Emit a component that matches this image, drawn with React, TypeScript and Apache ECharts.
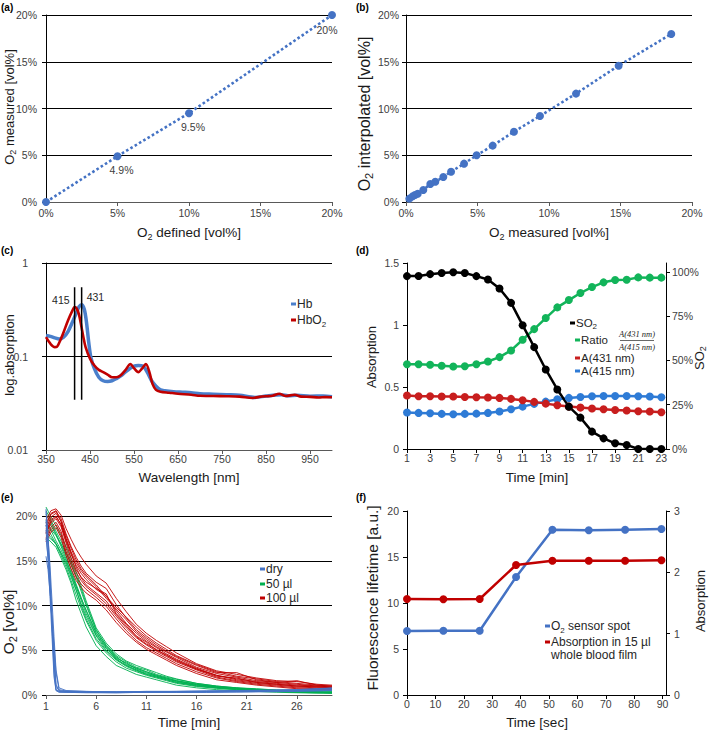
import { useEffect, useRef } from 'react';
import * as echarts from 'echarts';

// ---------------- DATA ----------------
// (a) calibration
const A_DEFINED = [0, 5, 10, 20];
const A_MEASURED = [0, 4.9, 9.5, 20];

// (b) interpolation
const B_MEASURED = [0.23, 0.47, 0.63, 0.82, 1.21, 1.7, 2.05, 2.61, 3.15, 4.06, 4.94, 6.06, 7.55, 9.37, 11.89, 14.87, 18.55];
const B_INTERP = [0.36, 0.61, 0.75, 0.89, 1.28, 1.93, 2.17, 2.67, 3.24, 4.1, 5.0, 6.03, 7.52, 9.2, 11.59, 14.58, 17.97];

// (c) spectra
const HB_WL = [350, 360, 370, 380, 390, 400, 410, 420, 425, 431, 437, 442, 447, 452, 460, 470, 480, 490, 500, 510, 520, 530, 540, 550, 560, 570, 580, 590, 600, 610, 620, 640, 660, 680, 700, 730, 760, 790, 825, 850, 885, 900, 920, 950, 980, 1000];
const HB_ABS = [0.168, 0.164, 0.158, 0.154, 0.161, 0.185, 0.233, 0.3, 0.34, 0.358, 0.32, 0.233, 0.143, 0.098, 0.074, 0.06, 0.055, 0.054, 0.055, 0.058, 0.062, 0.068, 0.074, 0.079, 0.08, 0.079, 0.068, 0.055, 0.048, 0.044, 0.043, 0.042, 0.0415, 0.041, 0.04, 0.0395, 0.039, 0.0385, 0.0365, 0.0378, 0.039, 0.038, 0.0385, 0.0376, 0.0378, 0.0372];
const HBO2_WL = [350, 360, 370, 375, 380, 390, 400, 410, 415, 420, 425, 430, 435, 440, 450, 460, 470, 480, 490, 500, 510, 520, 530, 542, 550, 560, 568, 577, 585, 592, 600, 610, 630, 650, 680, 700, 730, 760, 790, 820, 835, 850, 865, 880, 895, 915, 930, 950, 970, 985, 1000];
const HBO2_ABS = [0.161, 0.137, 0.126, 0.127, 0.14, 0.182, 0.243, 0.31, 0.338, 0.324, 0.28, 0.215, 0.161, 0.126, 0.095, 0.08, 0.072, 0.068, 0.064, 0.06, 0.06, 0.063, 0.071, 0.083, 0.075, 0.068, 0.074, 0.083, 0.068, 0.051, 0.044, 0.042, 0.041, 0.04, 0.039, 0.038, 0.0378, 0.0376, 0.0372, 0.036, 0.037, 0.0376, 0.038, 0.04, 0.0378, 0.039, 0.0372, 0.037, 0.0365, 0.0368, 0.0367];
const PEAK_WL = [415, 431];
const PEAK_LINE_RANGE = [0.0345, 0.55];

// (d) time course
const D_TIME = [1, 2, 3, 4, 5, 6, 7, 8, 9, 10, 11, 12, 13, 14, 15, 16, 17, 18, 19, 20, 21, 22, 23];
const D_SO2 = [97.6, 97.7, 98.7, 99.4, 99.8, 99.4, 97.6, 95.7, 90.6, 82.5, 69.9, 57.5, 44.9, 33.6, 23.9, 17.7, 9.8, 6.0, 3.2, 2.3, 0, 0, 0];
const D_RATIO = [0.684, 0.684, 0.679, 0.671, 0.665, 0.668, 0.684, 0.706, 0.741, 0.795, 0.881, 0.967, 1.056, 1.142, 1.201, 1.258, 1.306, 1.344, 1.363, 1.365, 1.384, 1.382, 1.382];
const D_A431 = [0.431, 0.426, 0.426, 0.423, 0.423, 0.42, 0.417, 0.415, 0.412, 0.404, 0.393, 0.38, 0.366, 0.353, 0.342, 0.334, 0.326, 0.32, 0.315, 0.31, 0.304, 0.302, 0.296];
const D_A415 = [0.294, 0.291, 0.288, 0.283, 0.28, 0.283, 0.285, 0.291, 0.302, 0.32, 0.342, 0.364, 0.382, 0.401, 0.412, 0.42, 0.426, 0.428, 0.428, 0.428, 0.426, 0.423, 0.417];

// (e) O2 depletion traces
const E_T_DRY = [1, 1.2, 1.4, 1.6, 1.8, 2.0, 2.3, 3, 5, 8, 11, 14, 17, 20, 23, 26, 29.5];
const E_DRY_1 = [20.5, 17, 12.5, 8, 3.5, 0.6, 0.4, 0.35, 0.3, 0.3, 0.35, 0.3, 0.35, 0.4, 0.45, 0.5, 0.6];
const E_DRY_2 = [19.5, 16.5, 13, 9, 5, 1.2, 0.5, 0.4, 0.35, 0.3, 0.3, 0.35, 0.4, 0.35, 0.4, 0.5, 0.55];
const E_DRY_3 = [18.5, 15, 11, 6.5, 2, 0.5, 0.35, 0.3, 0.3, 0.25, 0.3, 0.3, 0.3, 0.35, 0.4, 0.45, 0.5];
const E_DRY_4 = [15.5, 14, 11.5, 8.5, 5.5, 2.5, 0.6, 0.45, 0.4, 0.35, 0.4, 0.4, 0.45, 0.5, 0.55, 0.6, 0.75];
const E_DRY_5 = [19, 17.5, 14.5, 10.5, 6.5, 2.8, 0.8, 0.5, 0.4, 0.35, 0.35, 0.4, 0.4, 0.45, 0.5, 0.6, 0.8];
const E_DRY_6 = [20.8, 18, 13.5, 7.5, 2.5, 0.5, 0.3, 0.3, 0.25, 0.25, 0.3, 0.3, 0.3, 0.35, 0.35, 0.4, 0.5];
const E_DRY_7 = [17.5, 15.5, 12, 8, 4, 1, 0.45, 0.4, 0.35, 0.35, 0.4, 0.4, 0.45, 0.5, 0.5, 0.55, 0.7];
const E_T_SLOW = [1, 1.5, 2, 2.5, 3, 3.5, 4, 4.5, 5, 6, 7, 8, 9, 10, 11, 12, 13, 14, 16, 18, 20, 22, 24, 26, 28, 29.5];
const E_50_1 = [21.0, 19.9, 18.9, 17.8, 16.6, 15.3, 13.8, 12.2, 10.5, 7.5, 5.8, 4.6, 3.8, 3.3, 2.9, 2.5, 2.1, 1.8, 1.3, 1.0, 0.8, 0.7, 0.55, 0.5, 0.45, 0.4];
const E_50_2 = [17.6, 17.1, 16.5, 15.3, 14.0, 12.5, 10.6, 9.1, 7.6, 5.5, 4.3, 3.3, 2.8, 2.3, 2.0, 1.7, 1.4, 1.1, 0.8, 0.6, 0.5, 0.4, 0.3, 0.25, 0.2, 0.2];
const E_50_3 = [19.5, 18.9, 17.9, 16.6, 15.2, 13.6, 12.1, 10.6, 9.1, 6.7, 5.2, 4.1, 3.6, 2.9, 2.5, 2.1, 1.8, 1.55, 1.15, 0.9, 0.75, 0.6, 0.5, 0.4, 0.3, 0.3];
const E_50_4 = [18.2, 17.6, 16.8, 15.6, 14.3, 12.8, 11.2, 9.7, 8.3, 6.1, 4.7, 3.7, 3.0, 2.6, 2.2, 1.9, 1.6, 1.3, 0.95, 0.75, 0.6, 0.5, 0.4, 0.3, 0.25, 0.2];
const E_50_5 = [20.2, 19.2, 18.0, 16.8, 15.5, 14.0, 12.4, 10.9, 9.4, 6.9, 5.3, 4.0, 3.3, 2.8, 2.4, 2.1, 1.8, 1.5, 1.05, 0.8, 0.65, 0.5, 0.4, 0.35, 0.3, 0.25];
const E_50_6 = [19.0, 18.5, 17.8, 16.9, 15.8, 14.6, 13.2, 11.6, 10.0, 7.2, 5.6, 4.4, 3.7, 3.1, 2.8, 2.3, 2.0, 1.75, 1.3, 1.0, 0.8, 0.65, 0.55, 0.45, 0.35, 0.3];
const E_50_7 = [18.8, 17.9, 16.9, 15.8, 14.6, 13.2, 11.7, 10.2, 8.8, 6.6, 5.0, 4.0, 3.3, 2.8, 2.3, 2.0, 1.7, 1.4, 1.1, 0.85, 0.7, 0.55, 0.45, 0.4, 0.3, 0.25];
const E_50_8 = [20.6, 19.5, 18.3, 17.2, 16.0, 14.8, 13.4, 11.9, 10.2, 7.3, 5.5, 4.3, 3.4, 3.0, 2.6, 2.2, 1.9, 1.6, 1.2, 0.9, 0.75, 0.6, 0.5, 0.4, 0.35, 0.3];
const E_50_9 = [17.9, 17.4, 16.9, 15.9, 14.8, 13.4, 11.8, 10.0, 8.5, 6.3, 4.9, 3.9, 3.2, 2.7, 2.3, 2.0, 1.7, 1.4, 1.0, 0.8, 0.6, 0.5, 0.4, 0.3, 0.3, 0.25];
const E_50_10 = [19.3, 18.4, 17.2, 16.2, 15.0, 13.7, 12.2, 10.8, 9.5, 7.0, 5.4, 4.2, 3.5, 3.0, 2.6, 2.2, 1.9, 1.6, 1.2, 0.95, 0.75, 0.6, 0.5, 0.4, 0.35, 0.3];
const E_100_1 = [19.6, 20.6, 20.8, 20.1, 18.6, 17.4, 16.3, 15.4, 14.6, 13.3, 12.5, 10.8, 9.3, 7.9, 6.9, 6.1, 5.4, 4.7, 3.5, 2.7, 2.3, 1.9, 1.6, 1.5, 1.2, 1.1];
const E_100_2 = [17.1, 18.2, 18.7, 17.6, 15.6, 14.1, 12.8, 12.0, 11.4, 10.6, 9.5, 8.1, 6.9, 5.9, 5.1, 4.5, 3.9, 3.3, 2.4, 1.7, 1.4, 1.1, 0.9, 0.7, 0.6, 0.6];
const E_100_3 = [18.9, 20.2, 20.5, 19.7, 18.0, 16.6, 15.4, 14.4, 13.6, 12.6, 11.9, 10.1, 8.6, 7.3, 6.4, 5.6, 4.9, 4.3, 3.3, 2.5, 2.5, 1.7, 1.4, 1.6, 1.1, 1.0];
const E_100_4 = [17.6, 18.8, 19.3, 18.3, 16.4, 14.9, 13.7, 12.8, 12.1, 11.2, 10.2, 8.8, 7.5, 6.4, 5.6, 4.9, 4.3, 3.7, 2.8, 2.0, 1.6, 1.3, 1.1, 0.9, 0.8, 0.7];
const E_100_5 = [18.3, 19.6, 20.0, 19.0, 17.2, 15.7, 14.5, 13.6, 12.9, 11.8, 11.1, 9.4, 8.0, 6.9, 6.0, 5.3, 4.6, 4.0, 3.0, 2.2, 1.8, 1.5, 1.3, 1.1, 1.0, 0.9];
const E_100_6 = [18.0, 19.2, 19.7, 18.8, 17.0, 15.3, 14.0, 13.2, 12.6, 11.9, 11.3, 9.1, 7.9, 6.6, 5.9, 5.0, 4.5, 3.8, 2.9, 2.1, 1.9, 1.4, 1.2, 1.0, 0.9, 0.8];
const E_100_7 = [19.2, 20.3, 20.6, 19.4, 17.5, 16.0, 14.8, 13.9, 13.2, 12.1, 10.8, 9.6, 8.4, 7.1, 6.2, 5.4, 4.8, 4.2, 3.1, 2.4, 2.0, 1.6, 1.4, 1.2, 1.0, 0.9];
const E_100_8 = [17.4, 18.5, 19.0, 18.0, 16.0, 14.5, 13.2, 12.4, 11.8, 10.9, 9.9, 8.5, 7.2, 6.1, 5.3, 4.7, 4.1, 3.5, 2.6, 1.9, 1.5, 1.2, 1.0, 0.8, 0.7, 0.7];
const E_100_9 = [18.6, 19.9, 20.3, 19.4, 17.8, 16.4, 15.1, 14.1, 13.4, 12.3, 11.0, 9.8, 8.7, 7.6, 6.6, 5.8, 5.1, 4.4, 3.4, 2.6, 2.1, 1.8, 1.5, 1.3, 1.1, 1.0];
const E_100_10 = [18.1, 19.4, 19.9, 19.1, 17.4, 15.9, 14.3, 13.1, 12.3, 11.4, 10.5, 9.0, 7.7, 6.5, 5.7, 5.1, 4.4, 3.9, 2.9, 2.2, 1.7, 1.4, 1.2, 1.0, 0.9, 0.8];
const E_DRY = [E_DRY_1, E_DRY_2, E_DRY_3, E_DRY_4, E_DRY_5, E_DRY_6, E_DRY_7];
const E_50 = [E_50_1, E_50_2, E_50_3, E_50_4, E_50_5, E_50_6, E_50_7, E_50_8, E_50_9, E_50_10];
const E_100 = [E_100_1, E_100_2, E_100_3, E_100_4, E_100_5, E_100_6, E_100_7, E_100_8, E_100_9, E_100_10];

// (f) sensor vs absorption
const F_TIME = [0, 12.8, 25.6, 38.4, 51.2, 64.0, 76.8, 89.6];
const F_LIFETIME = [6.96, 6.99, 6.99, 12.83, 17.97, 17.9, 17.97, 18.04];
const F_ABS = [1.565, 1.56, 1.565, 2.12, 2.19, 2.19, 2.19, 2.196];

// tick label sets
const C_X_TICKS = [350, 450, 550, 650, 750, 850, 950];
const D_X_TICKS = [1, 3, 5, 7, 9, 11, 13, 15, 17, 19, 21, 23];
const D_R_TICKS = [0, 25, 50, 75, 100];
const E_X_TICKS = [1, 6, 11, 16, 21, 26];
const F_X_TICKS = [0, 10, 20, 30, 40, 50, 60, 70, 80, 90];

// ---------------- STYLE ----------------
const FONT = "'Liberation Sans', Arial, Helvetica, sans-serif";
const SERIF = "'Liberation Serif', 'Times New Roman', serif";
const TICK_COLOR = '#404040';
const TITLE_COLOR = '#1a1a1a';
const LEG_COLOR = '#262626';
const AX_BLACK = '#000000';
const AX_GRAY = '#595959';
const C_BLUE = '#4472C4';
const C_SPEC_BLUE = '#4A7FCB';
const C_RED = '#C00000';
const C_GREEN = '#00B050';
const C_D_BLUE = '#2E7BD6';
const C_D_GREEN = '#12B45A';
const C_D_RED = '#C81E1E';

const zip = (xs: number[], ys: number[]) => xs.map((x, i) => [x, ys[i]]);

function richText(s: string) {
  return s
    .split(/(_\d)/)
    .filter((p) => p.length > 0)
    .map((p) => (p[0] === '_' ? `{s|${p.slice(1)}}` : `{n|${p}}`))
    .join('');
}
function richStyle(size: number, color: string) {
  const sub = Math.round(size * 0.7);
  return {
    n: { fontSize: size, fontFamily: FONT, color, lineHeight: Math.round(size * 1.3) },
    s: {
      fontSize: sub,
      fontFamily: FONT,
      color,
      lineHeight: sub,
      padding: [Math.round(size * 0.5), 0, 0, 0],
      verticalAlign: 'bottom',
    },
  };
}
function title(text: string, x: number, y: number, size: number, rotate = false) {
  return {
    type: 'text',
    x,
    y,
    rotation: rotate ? Math.PI / 2 : 0,
    silent: true,
    style: {
      text: richText(text),
      rich: richStyle(size, TITLE_COLOR),
      align: 'center',
      verticalAlign: 'middle',
      fill: TITLE_COLOR,
      fontFamily: FONT,
      fontSize: size,
    },
  };
}
function legendItem(x: number, y: number, color: string, text: string, size = 12, textX?: number) {
  return [
    { type: 'rect', silent: true, shape: { x, y: y - 1.5, width: 5, height: 3 }, style: { fill: color } },
    {
      type: 'text',
      silent: true,
      x: textX ?? x + 6,
      y,
      style: {
        text: richText(text),
        rich: richStyle(size, LEG_COLOR),
        align: 'left',
        verticalAlign: 'middle',
        fill: LEG_COLOR,
        fontFamily: FONT,
        fontSize: size,
      },
    },
  ];
}
function plainText(text: string, x: number, y: number, size: number, opts: any = {}) {
  return {
    type: 'text',
    silent: true,
    x,
    y,
    style: {
      text,
      fontFamily: opts.family ?? FONT,
      fontSize: size,
      fontWeight: opts.weight ?? 'normal',
      fontStyle: opts.style ?? 'normal',
      fill: opts.color ?? TITLE_COLOR,
      align: opts.align ?? 'left',
      verticalAlign: opts.valign ?? 'middle',
    },
  };
}

const lbl = (margin: number, extra: any = {}) => ({
  fontSize: 10.5,
  color: TICK_COLOR,
  fontFamily: FONT,
  margin,
  ...extra,
});
const tick = (color: string, extra: any = {}) => ({ show: true, length: 4, lineStyle: { color, width: 1 }, ...extra });
const line = (color: string, show = true) => ({ show, onZero: false, lineStyle: { color, width: 1 } });
const split = (show: boolean) => ({ show, lineStyle: { color: AX_BLACK, width: 1 } });

function buildOption(): any {
  const grids = [
    { left: 46, top: 15, width: 286, height: 187 }, // a
    { left: 406, top: 15, width: 286, height: 187 }, // b
    { left: 46, top: 263, width: 286, height: 187 }, // c
    { left: 407, top: 263, width: 259, height: 186 }, // d
    { left: 46, top: 516, width: 286, height: 179 }, // e
    { left: 407, top: 511, width: 259, height: 184 }, // f
  ];

  const xAxis = [
    { gridIndex: 0, type: 'value', min: 0, max: 20, interval: 5, axisLabel: lbl(5, { formatter: '{value}%' }), axisLine: line(AX_GRAY), axisTick: tick(AX_GRAY), splitLine: split(false) },
    { gridIndex: 1, type: 'value', min: 0, max: 20, interval: 5, axisLabel: lbl(5, { formatter: '{value}%' }), axisLine: line(AX_GRAY), axisTick: tick(AX_GRAY), splitLine: split(false) },
    { gridIndex: 2, type: 'value', min: 350, max: 1000, axisLabel: lbl(3, { customValues: C_X_TICKS }), axisLine: line(AX_GRAY), axisTick: tick(AX_GRAY, { customValues: C_X_TICKS }), splitLine: split(false) },
    { gridIndex: 3, type: 'value', min: 1, max: 23.4, axisLabel: lbl(3, { customValues: D_X_TICKS }), axisLine: line(AX_BLACK), axisTick: tick(AX_BLACK, { customValues: D_X_TICKS }), splitLine: split(false) },
    { gridIndex: 4, type: 'value', min: 1, max: 29.5, axisLabel: lbl(5, { customValues: E_X_TICKS }), axisLine: line(AX_GRAY), axisTick: tick(AX_GRAY, { customValues: E_X_TICKS }), splitLine: split(false) },
    { gridIndex: 5, type: 'value', min: 0, max: 91.2, axisLabel: lbl(3, { customValues: F_X_TICKS }), axisLine: line(AX_BLACK), axisTick: tick(AX_BLACK, { customValues: F_X_TICKS }), splitLine: split(false) },
  ];

  const yAxis = [
    { gridIndex: 0, type: 'value', min: 0, max: 20, interval: 5, axisLabel: lbl(9, { formatter: '{value}%' }), axisLine: line(AX_BLACK), axisTick: tick(AX_BLACK), splitLine: split(true) },
    { gridIndex: 1, type: 'value', min: 0, max: 20, interval: 5, axisLabel: lbl(7, { formatter: '{value}%' }), axisLine: line(AX_BLACK), axisTick: tick(AX_BLACK), splitLine: split(true) },
    {
      gridIndex: 2,
      type: 'log',
      logBase: 10,
      min: 0.01,
      max: 1,
      axisLabel: lbl(18, { formatter: (v: number) => (v >= 1 ? '1' : v >= 0.1 ? '0.1' : '0.01') }),
      axisLine: line(AX_BLACK),
      axisTick: tick(AX_BLACK),
      splitLine: split(true),
      minorTick: { show: false },
    },
    { gridIndex: 3, type: 'value', min: 0, max: 1.5, interval: 0.5, axisLabel: lbl(8), axisLine: line(AX_BLACK), axisTick: tick(AX_BLACK), splitLine: split(false) },
    {
      gridIndex: 3,
      type: 'value',
      position: 'right',
      min: 0,
      max: 105,
      axisLabel: lbl(6, { customValues: D_R_TICKS, formatter: '{value}%' }),
      axisLine: line(AX_BLACK),
      axisTick: tick(AX_BLACK, { customValues: D_R_TICKS }),
      splitLine: split(false),
    },
    { gridIndex: 4, type: 'value', min: 0, max: 20, interval: 5, axisLabel: lbl(9, { formatter: '{value}%' }), axisLine: line(AX_BLACK, false), axisTick: tick(AX_BLACK), splitLine: split(true) },
    { gridIndex: 5, type: 'value', min: 0, max: 20, interval: 5, axisLabel: lbl(8), axisLine: line(AX_BLACK), axisTick: tick(AX_BLACK), splitLine: split(false) },
    { gridIndex: 5, type: 'value', position: 'right', min: 0, max: 3, interval: 1, axisLabel: lbl(8), axisLine: line(AX_BLACK), axisTick: tick(AX_BLACK), splitLine: split(false) },
  ];

  const dotted = { type: [2.6, 2.4], width: 2.6, color: C_BLUE };
  const ptLabel = { fontSize: 10.5, color: TICK_COLOR, fontFamily: FONT };

  const series: any[] = [];

  // (a)
  series.push({
    type: 'line',
    name: 'a',
    xAxisIndex: 0,
    yAxisIndex: 0,
    data: A_DEFINED.map((x, i) => ({
      value: [x, A_MEASURED[i]],
      label: { offset: i === A_DEFINED.length - 1 ? [-5, 1] : [4, 0] },
    })),
    symbol: 'circle',
    symbolSize: 8,
    itemStyle: { color: C_BLUE },
    lineStyle: dotted,
    label: {
      show: true,
      position: 'bottom',
      distance: 4,
      ...ptLabel,
      formatter: (p: any) => (p.dataIndex === 0 ? '' : `${p.value[1]}%`),
    },
  });

  // (b)
  series.push({
    type: 'line',
    name: 'b',
    xAxisIndex: 1,
    yAxisIndex: 1,
    data: zip(B_MEASURED, B_INTERP),
    symbol: 'circle',
    symbolSize: 8,
    itemStyle: { color: C_BLUE },
    lineStyle: dotted,
  });

  // (c)
  series.push({
    type: 'line',
    name: 'Hb',
    xAxisIndex: 2,
    yAxisIndex: 2,
    data: zip(HB_WL, HB_ABS),
    showSymbol: false,
    symbol: 'none',
    smooth: 0.3,
    lineStyle: { color: C_SPEC_BLUE, width: 3.5 },
  });
  series.push({
    type: 'line',
    name: 'HbO2',
    xAxisIndex: 2,
    yAxisIndex: 2,
    data: zip(HBO2_WL, HBO2_ABS),
    showSymbol: false,
    symbol: 'none',
    smooth: 0.3,
    lineStyle: { color: C_RED, width: 2.6 },
  });
  PEAK_WL.forEach((wl, i) => {
    series.push({
      type: 'line',
      name: `peak${wl}`,
      xAxisIndex: 2,
      yAxisIndex: 2,
      symbol: 'circle',
      symbolSize: 2,
      showSymbol: true,
      itemStyle: { color: 'rgba(0,0,0,0)' },
      lineStyle: { color: AX_BLACK, width: 1.5 },
      label: { show: false },
      data: [
        { value: [wl, PEAK_LINE_RANGE[0]] },
        {
          value: [wl, PEAK_LINE_RANGE[1]],
          label: {
            show: true,
            position: i === 0 ? 'left' : 'right',
            distance: 4,
            offset: i === 0 ? [0, 13] : [0, 10],
            formatter: String(wl),
            fontSize: 10.5,
            color: LEG_COLOR,
            fontFamily: FONT,
          },
        },
      ],
    });
  });

  // (d)
  const dSeries = [
    { name: 'A(415 nm)', data: D_A415, color: C_D_BLUE, y: 3 },
    { name: 'A(431 nm)', data: D_A431, color: C_D_RED, y: 3 },
    { name: 'Ratio', data: D_RATIO, color: C_D_GREEN, y: 3 },
    { name: 'SO2', data: D_SO2, color: '#000000', y: 4 },
  ];
  dSeries.forEach((s) =>
    series.push({
      type: 'line',
      name: s.name,
      xAxisIndex: 3,
      yAxisIndex: s.y,
      data: zip(D_TIME, s.data),
      symbol: 'circle',
      symbolSize: 8,
      itemStyle: { color: s.color },
      lineStyle: { color: s.color, width: 2.5 },
    })
  );

  // (e)
  const eGroups = [
    { name: '50 µl', traces: E_50, t: E_T_SLOW, color: C_GREEN },
    { name: '100 µl', traces: E_100, t: E_T_SLOW, color: C_RED },
    { name: 'dry', traces: E_DRY, t: E_T_DRY, color: C_BLUE },
  ];
  eGroups.forEach((g) =>
    g.traces.forEach((tr) =>
      series.push({
        type: 'line',
        name: g.name,
        xAxisIndex: 4,
        yAxisIndex: 5,
        data: zip(g.t, tr),
        showSymbol: false,
        symbol: 'none',
        clip: false,
        silent: true,
        lineStyle: { color: g.color, width: 0.9 },
      })
    )
  );

  // (f)
  series.push({
    type: 'line',
    name: 'O2 sensor spot',
    xAxisIndex: 5,
    yAxisIndex: 6,
    data: zip(F_TIME, F_LIFETIME),
    symbol: 'circle',
    symbolSize: 8,
    itemStyle: { color: C_BLUE },
    lineStyle: { color: C_BLUE, width: 2.5 },
  });
  series.push({
    type: 'line',
    name: 'Absorption in 15 µl whole blood film',
    xAxisIndex: 5,
    yAxisIndex: 7,
    data: zip(F_TIME, F_ABS),
    symbol: 'circle',
    symbolSize: 8,
    itemStyle: { color: C_RED },
    lineStyle: { color: C_RED, width: 2.5 },
  });

  const graphic: any[] = [
    // panel letters
    plainText('(a)', 1, 7, 10, { weight: 'bold', color: '#000' }),
    plainText('(b)', 356, 7, 10, { weight: 'bold', color: '#000' }),
    plainText('(c)', 1, 250, 10, { weight: 'bold', color: '#000' }),
    plainText('(d)', 356, 250, 10, { weight: 'bold', color: '#000' }),
    plainText('(e)', 1, 497, 10, { weight: 'bold', color: '#000' }),
    plainText('(f)', 356, 497, 10, { weight: 'bold', color: '#000' }),
    // axis titles
    title('O_2 measured [vol%]', 9, 107, 13, true),
    title('O_2 defined [vol%]', 189, 232, 13.5),
    title('O_2 interpolated [vol%]', 364, 114, 16, true),
    title('O_2 measured [vol%]', 549, 232, 13.5),
    title('log.absorption', 9, 355, 13, true),
    title('Wavelength [nm]', 189, 477, 13.5),
    title('Absorption', 371, 357, 13, true),
    title('SO_2', 699, 358, 13, true),
    title('Time [min]', 537, 477, 13.5),
    title('O_2 [vol%]', 8, 622, 15.5, true),
    title('Time [min]', 189, 722, 13.5),
    title('Fluorescence lifetime [a.u.]', 372, 598, 15.5, true),
    title('Absorption', 700, 601, 13, true),
    title('Time [sec]', 537, 722, 13.5),
    // legend (c)
    ...legendItem(291, 304, C_SPEC_BLUE, 'Hb', 12),
    ...legendItem(291, 320, C_RED, 'HbO_2', 12),
    // legend (d)
    ...legendItem(570, 323, '#000000', 'SO_2', 11.5),
    ...legendItem(575, 340, C_D_GREEN, 'Ratio', 11.5),
    ...legendItem(575, 358, C_D_RED, 'A(431 nm)', 11.5),
    ...legendItem(575, 371, C_D_BLUE, 'A(415 nm)', 11.5),
    plainText('A(431 nm)', 637, 334, 8.5, { family: SERIF, style: 'italic', align: 'center', color: LEG_COLOR }),
    plainText('A(415 nm)', 637, 347, 8.5, { family: SERIF, style: 'italic', align: 'center', color: LEG_COLOR }),
    { type: 'line', silent: true, shape: { x1: 620, y1: 340.5, x2: 654, y2: 340.5 }, style: { stroke: LEG_COLOR, lineWidth: 0.7 } },
    // legend (e)
    ...legendItem(260, 569, C_BLUE, 'dry', 12),
    ...legendItem(260, 584, C_GREEN, '50 µl', 12),
    ...legendItem(260, 598, C_RED, '100 µl', 12),
    // legend (f)
    ...legendItem(545, 626, C_BLUE, 'O_2 sensor spot', 12),
    ...legendItem(545, 642, C_RED, 'Absorption in 15 µl', 12),
    plainText('whole blood film', 551, 655, 12, { color: LEG_COLOR }),
  ];

  return {
    animation: false,
    backgroundColor: '#ffffff',
    textStyle: { fontFamily: FONT },
    grid: grids,
    xAxis,
    yAxis,
    series,
    graphic,
  };
}

export default function App() {
  const ref = useRef<HTMLDivElement>(null);
  useEffect(() => {
    if (!ref.current) return;
    const chart = echarts.init(ref.current, undefined, { renderer: 'svg' });
    chart.setOption(buildOption());
    return () => chart.dispose();
  }, []);
  return (
    <div
      ref={ref}
      style={{ position: 'absolute', left: 0, top: 0, width: 709, height: 730, background: '#fff' }}
    />
  );
}
